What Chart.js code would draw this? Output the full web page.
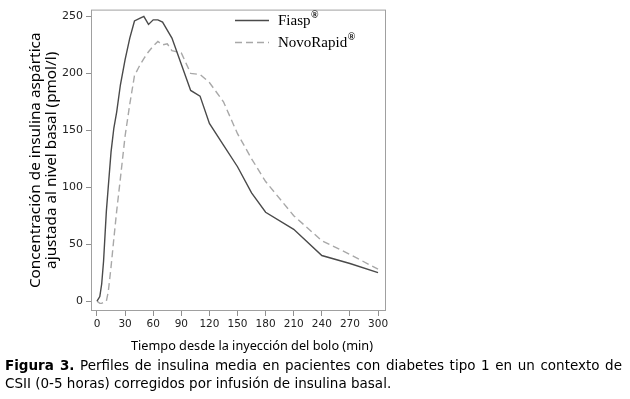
<!DOCTYPE html>
<html>
<head>
<meta charset="utf-8">
<script src="https://cdn.jsdelivr.net/npm/chart.js@4.4.1/dist/chart.umd.min.js"></script>
<style>
  body { margin: 0; background: #fff; }
  #wrap { position: relative; width: 630px; height: 399px; }
  #box { position: absolute; left: 0; top: 0; width: 630px; height: 355px; }
  #xt { position: absolute; left: 131px; top: 336px; font: 12.7px "Noto Sans", sans-serif; color: #000; white-space: nowrap; }
  #cap { position: absolute; left: 5px; top: 356px; width: 617px; font: 13.5px "DejaVu Sans", sans-serif; line-height: 18px; text-align: justify; text-align-last: left; color: #000; }
</style>
</head>
<body>
<div id="wrap">
  <div id="box"><canvas id="myChart" width="630" height="355"></canvas></div>
  <div id="xt">Tiempo desde la inyección del bolo (min)</div>
  <div id="cap"><b>Figura 3.</b> Perfiles de insulina media en pacientes con diabetes tipo 1 en un contexto de CSII (0-5 horas) corregidos por infusión de insulina basal.</div>
</div>
<script>
// minutes after bolus
const times = [0, 3, 5, 7, 10, 12, 15, 18, 21, 25, 30, 35, 40, 45, 50, 55, 60, 65, 70, 75, 80, 90, 100, 110, 120, 135, 150, 165, 180, 210, 240, 270, 300];
const fiasp = [0, 4, 15, 35, 79, 100, 131, 152, 166, 190, 212, 231, 246, 248, 250, 243, 247, 247, 245, 238, 231, 208, 185, 180, 156, 137, 118, 95, 78, 63, 40, 33, 25];
const novo  = [0, -2, -2, -1, 0, 8, 30, 55, 79, 108, 145, 173, 198, 206, 213, 219, 224, 228, 225, 226, 220, 218, 200, 199, 192, 175, 147, 125, 105, 75, 53, 41, 28];
const seriesNames = ['Fiasp', 'NovoRapid'];
const xTicks = [0, 30, 60, 90, 120, 150, 180, 210, 240, 270, 300];
const yTicks = [0, 50, 100, 150, 200, 250];

function pts(vals) {
  return times.map(function (t, i) { return { x: t, y: vals[i] }; });
}

// box around plot + legend with superscript ®
const frame = {
  id: 'frame',
  afterDraw(chart) {
    const c = chart.ctx, a = chart.chartArea;
    c.save();
    c.strokeStyle = '#a0a0a0';
    c.lineWidth = 1;
    c.strokeRect(a.left + 0.5, a.top + 0.5, a.right - a.left - 1, a.bottom - a.top - 1);
    chart.data.datasets.forEach(function (ds, i) {
      const y = 20 + i * 22;
      c.strokeStyle = ds.borderColor;
      c.lineWidth = ds.borderWidth;
      c.setLineDash(ds.borderDash || []);
      c.beginPath();
      c.moveTo(235, y + 0.5);
      c.lineTo(269, y + 0.5);
      c.stroke();
      c.setLineDash([]);
      c.fillStyle = '#000';
      c.textBaseline = 'middle';
      c.font = '15px "Liberation Serif", serif';
      c.fillText(ds.label, 278, y + 1);
      const w = c.measureText(ds.label).width;
      c.font = 'bold 10px "Liberation Serif", serif';
      c.fillText('®', 278 + w + 0.5, y - 5);
    });
    c.restore();
  }
};

const ctx = document.getElementById('myChart').getContext('2d');
const chart = new Chart(ctx, {
  type: 'line',
  data: {
    datasets: [{
      label: seriesNames[0],
      data: pts(fiasp),
      borderColor: '#4a4a4a',
      borderWidth: 1.4,
      pointRadius: 0,
      tension: 0
    }, {
      label: seriesNames[1],
      data: pts(novo),
      borderColor: '#a8a8a8',
      borderWidth: 1.4,
      borderDash: [7, 4],
      pointRadius: 0,
      tension: 0
    }]
  },
  options: {
    responsive: false,
    animation: false,
    devicePixelRatio: 1,
    layout: { padding: { left: 0, right: 244, top: 6, bottom: 0 } },
    plugins: { legend: { display: false }, tooltip: { enabled: false } },
    scales: {
      x: {
        type: 'linear',
        min: -6.4,
        max: 308.5,
        afterBuildTicks(s) { s.ticks = xTicks.map(function (v) { return { value: v }; }); },
        afterFit(s) { s.height = 44; },
        grid: { drawOnChartArea: false, drawTicks: true, tickLength: 5, color: '#909090' },
        border: { display: false },
        ticks: { color: '#222', font: { family: '"DejaVu Sans", sans-serif', size: 10.5 }, padding: 2, maxRotation: 0 }
      },
      y: {
        min: -8.7,
        max: 256,
        afterBuildTicks(s) { s.ticks = yTicks.map(function (v) { return { value: v }; }); },
        afterFit(s) { s.width = 91; },
        grid: { drawOnChartArea: false, drawTicks: true, tickLength: 5, color: '#909090' },
        border: { display: false },
        ticks: { color: '#222', font: { family: '"DejaVu Sans", sans-serif', size: 11 }, padding: 3 },
        title: {
          display: true,
          text: ['Concentración de insulina aspártica', 'ajustada al nivel basal (pmol/l)'],
          color: '#000',
          font: { family: '"Noto Sans", sans-serif', size: 15.3, lineHeight: 1.05 },
          padding: { top: 28, bottom: 0 }
        }
      }
    }
  },
  plugins: [frame]
});
</script>
</body>
</html>
